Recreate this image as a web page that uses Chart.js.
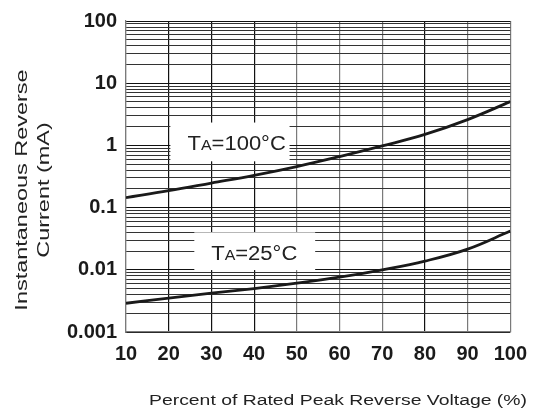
<!DOCTYPE html>
<html>
<head>
<meta charset="utf-8">
<script src="https://cdn.jsdelivr.net/npm/chart.js@4.4.1/dist/chart.umd.min.js"></script>
<style>
  html, body { margin: 0; padding: 0; background: #fff; }
  #wrap { width: 537px; height: 414px; position: relative; }
</style>
</head>
<body>
<div id="wrap"><canvas id="irChart"></canvas></div>
<script>
// percent of rated peak reverse voltage
const voltagePct = [10, 20, 30, 40, 50, 60, 70, 80, 90, 100];
// instantaneous reverse current, mA
const current100C = [0.145, 0.187, 0.248, 0.33, 0.457, 0.66, 0.98, 1.5, 2.6, 5.05];
const current25C = [0.0029, 0.0035, 0.0042, 0.005, 0.0061, 0.0076, 0.0100, 0.0138, 0.0215, 0.042];

const yDecades = [0.001, 0.01, 0.1, 1, 10];
const yMinorSteps = [1, 2, 3, 4, 5, 6, 7, 8, 9];
const yMax = 100;
const darkXLines = [20, 30, 40, 80];

const FONT = "'Liberation Sans', Arial, sans-serif";

// log grid: every 1..9 step in each decade, plus the top
const yGridValues = [];
yDecades.forEach(d => yMinorSteps.forEach(m => yGridValues.push(+(d * m).toPrecision(3))));
yGridValues.push(yMax);

const isDecade = v => Math.abs(Math.log10(v) - Math.round(Math.log10(v))) < 1e-9;

// text in a white box, placed in data units
const tempLabels = {
    id: 'tempLabels',
    beforeDatasetsDraw(chart, args, opts) {
        const { ctx, scales: { x, y } } = chart;
        opts.items.forEach(item => {
            const left = x.getPixelForValue(item.box[0]);
            const right = x.getPixelForValue(item.box[1]);
            const top = y.getPixelForValue(item.box[3]);
            const bottom = y.getPixelForValue(item.box[2]);
            ctx.save();
            ctx.fillStyle = '#fff';
            ctx.fillRect(left, top, right - left, bottom - top);
            ctx.fillStyle = '#222';
            ctx.textBaseline = 'alphabetic';
            ctx.textAlign = 'left';
            let tx = x.getPixelForValue(item.at[0]);
            const ty = y.getPixelForValue(item.at[1]);
            item.parts.forEach(([txt, size]) => {
                ctx.font = size + 'px ' + FONT;
                ctx.save();
                ctx.translate(tx, ty);
                ctx.scale(1.1, 1);
                ctx.fillText(txt, 0, 0);
                ctx.restore();
                tx += ctx.measureText(txt).width * 1.1;
            });
            ctx.restore();
        });
    }
};

// axis titles, stretched a bit wider like the original artwork
const axisTitles = {
    id: 'axisTitles',
    afterDraw(chart) {
        const { ctx } = chart;
        ctx.save();
        ctx.fillStyle = '#222';
        ctx.textAlign = 'center';
        ctx.textBaseline = 'middle';

        ctx.font = '15.5px ' + FONT;
        ctx.save();
        ctx.translate(338, 401);
        ctx.scale(1.25, 1);
        ctx.fillText('Percent of Rated Peak Reverse Voltage (%)', 0, 0);
        ctx.restore();

        ctx.font = '17px ' + FONT;
        [['Instantaneous Reverse', 22], ['Current (mA)', 44]].forEach(([txt, cx]) => {
            ctx.save();
            ctx.translate(cx, 190);
            ctx.rotate(-Math.PI / 2);
            ctx.scale(1.38, 1);
            ctx.fillText(txt, 0, 0);
            ctx.restore();
        });
        ctx.restore();
    }
};

new Chart(document.getElementById('irChart').getContext('2d'), {
    type: 'line',
    data: {
        labels: voltagePct,
        datasets: [{
            label: 'TA=100°C',
            data: voltagePct.map((v, i) => ({ x: v, y: current100C[i] })),
            borderColor: '#1a1a1a',
            borderWidth: 2.8,
            pointRadius: 0,
            tension: 0.4
        }, {
            label: 'TA=25°C',
            data: voltagePct.map((v, i) => ({ x: v, y: current25C[i] })),
            borderColor: '#1a1a1a',
            borderWidth: 2.8,
            pointRadius: 0,
            tension: 0.4
        }]
    },
    options: {
        responsive: true,
        maintainAspectRatio: false,
        animation: false,
        events: [],
        layout: { padding: { top: 19, right: 23, left: 0, bottom: 0 } },
        scales: {
            x: {
                type: 'linear',
                min: 10,
                max: 100,
                afterFit: s => { s.height = 82; },
                ticks: {
                    stepSize: 10,
                    padding: 10,
                    color: '#1a1a1a',
                    font: { family: FONT, size: 20, weight: 'bold' }
                },
                grid: {
                    drawTicks: false,
                    lineWidth: 1.2,
                    color: c => darkXLines.includes(c.tick && c.tick.value) ? '#111' : '#7a7a7a'
                },
                border: { color: '#7a7a7a', width: 1.2 }
            },
            y: {
                type: 'logarithmic',
                min: yDecades[0],
                max: yMax,
                afterFit: s => { s.width = 126; },
                afterBuildTicks: s => { s.ticks = yGridValues.map(v => ({ value: v, major: isDecade(v) })); },
                ticks: {
                    autoSkip: false,
                    padding: 9,
                    color: '#1a1a1a',
                    font: { family: FONT, size: 20, weight: 'bold' },
                    callback: v => isDecade(v) ? String(+v.toPrecision(1)) : ''
                },
                grid: {
                    drawTicks: false,
                    lineWidth: 1,
                    color: c => isDecade(c.tick.value) ? '#111' : '#333'
                },
                border: { color: '#7a7a7a', width: 1.2 }
            }
        },
        plugins: {
            legend: { display: false },
            tooltip: { enabled: false },
            tempLabels: {
                items: [
                    { box: [20.4, 48.3, 0.555, 2.33], at: [24.4, 0.853], parts: [['T', 20], ['A', 14.5], ['=100°C', 20]] },
                    { box: [26.0, 54.3, 0.0099, 0.040], at: [29.95, 0.0143], parts: [['T', 20], ['A', 14.5], ['=25°C', 20]] }
                ]
            }
        }
    },
    plugins: [tempLabels, axisTitles]
});
</script>
</body>
</html>
